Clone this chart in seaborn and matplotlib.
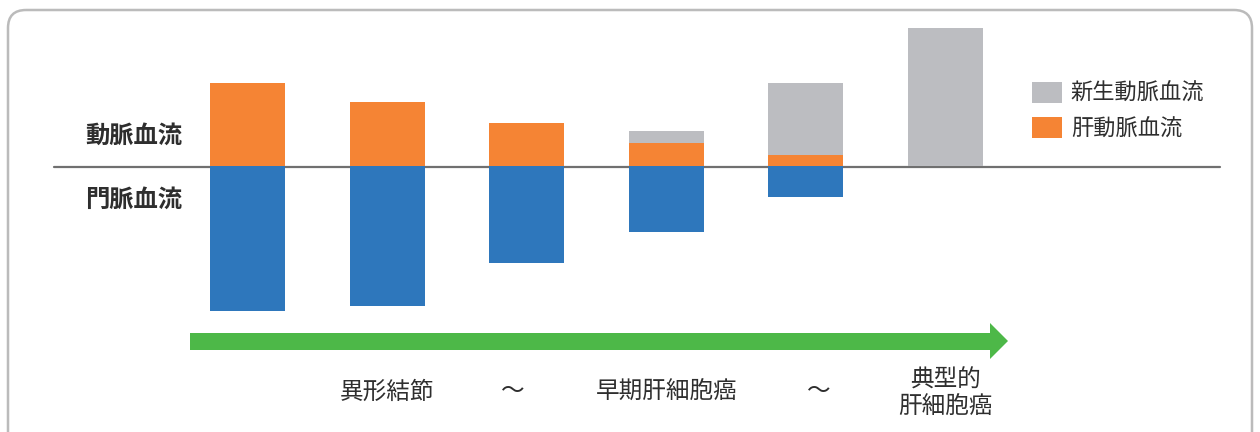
import numpy as np
import pandas as pd
import seaborn as sns
import matplotlib
matplotlib.use("Agg")
import matplotlib.pyplot as plt
from matplotlib.patches import Patch, FancyBboxPatch, Polygon

# ---- data (arbitrary units) ----
stages = ["s1", "s2", "s3", "s4", "s5", "s6"]
hepatic_artery = [83, 64, 43, 23, 11, 0]      # 肝動脈血流 (orange, up)
new_artery = [0, 0, 0, 12, 72, 138]           # 新生動脈血流 (grey, stacked up)
portal_vein = [-145, -140, -97, -66, -31, 0]  # 門脈血流 (blue, down)
stage_labels = ["異形結節", "～", "早期肝細胞癌", "～", "典型的\n肝細胞癌"]
stage_label_pos = [1.0, 1.9, 3.0, 4.09, 5.0]
legend_labels = ["新生動脈血流", "肝動脈血流"]
side_labels = ["動脈血流", "門脈血流"]

ORANGE = "#F58434"
BLUE = "#2E77BC"
GREY = "#BCBDC1"
GREEN = "#4DB848"
TEXT = "#2E2E2E"

sns.set_theme(style="white")
plt.rcParams["font.family"] = ["Noto Sans CJK JP", "DejaVu Sans"]

W, H = 1260, 432
fig = plt.figure(figsize=(W / 100, H / 100), dpi=100)

# overlay axes in pixel coordinates for decorations
ov = fig.add_axes([0, 0, 1, 1], zorder=0)
ov.set_xlim(0, W)
ov.set_ylim(H, 0)
ov.axis("off")

ax = fig.add_axes([0, 0, 1, 1], zorder=1)
ax.patch.set_alpha(0)

df = pd.DataFrame({
    "stage": stages,
    "artery": hepatic_artery,
    "new": new_artery,
    "portal": portal_vein,
})
df["total_up"] = df["artery"] + df["new"]

bw = 75 / 139.6
sns.barplot(data=df, x="stage", y="total_up", color=GREY, width=bw,
            saturation=1, ax=ax, linewidth=0)
sns.barplot(data=df, x="stage", y="artery", color=ORANGE, width=bw,
            saturation=1, ax=ax, linewidth=0)
sns.barplot(data=df, x="stage", y="portal", color=BLUE, width=bw,
            saturation=1, ax=ax, linewidth=0)

# map categories to pixel positions
x0, step = 247.5, 139.6
ax.set_xlim(-x0 / step, (W - x0) / step)
y0 = 166.0
ax.set_ylim(-(H - y0), y0)
ax.axis("off")

# baseline
ov.plot([54, 1220], [167, 167], color="#707070", lw=1.6, zorder=5)

# frame
frame = FancyBboxPatch((8, 10), 1244, 460, boxstyle="round,pad=0,rounding_size=18",
                       fc="none", ec="#BBBBBB", lw=1.8, zorder=0)
ov.add_patch(frame)

# side labels
ov.text(182, 136, side_labels[0], ha="right", va="center", fontsize=17.5,
        fontweight="bold", color=TEXT)
ov.text(182, 200, side_labels[1], ha="right", va="center", fontsize=17.5,
        fontweight="bold", color=TEXT)

# green arrow
arrow = Polygon([(190, 333), (990, 333), (990, 323), (1008, 341),
                 (990, 359), (990, 350), (190, 350)], closed=True,
                fc=GREEN, ec="none", zorder=2)
ov.add_patch(arrow)

# stage labels
for lab, pos in zip(stage_labels, stage_label_pos):
    yc = 393.5 if "\n" in lab else 392
    ax.text(pos, -(yc - y0), lab, ha="center", va="center", fontsize=17,
            color=TEXT, linespacing=1.22)

# legend
handles = [Patch(facecolor=GREY, edgecolor="none"), Patch(facecolor=ORANGE, edgecolor="none")]
leg = fig.legend(handles, legend_labels, loc="upper left",
                 bbox_to_anchor=(1032 / W, 1 - 82 / H), frameon=False,
                 fontsize=16, handlelength=1.35, handleheight=1.08,
                 handletextpad=0.4, labelspacing=0.55, borderpad=0, borderaxespad=0)
for t in leg.get_texts():
    t.set_color(TEXT)

fig.savefig("out.png", dpi=100)
